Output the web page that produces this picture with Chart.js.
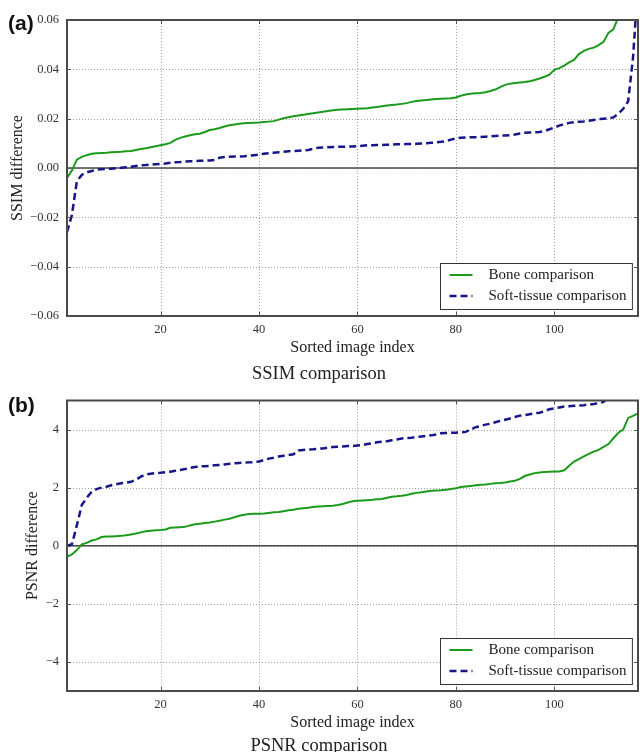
<!DOCTYPE html>
<html><head><meta charset="utf-8">
<script src="https://cdn.jsdelivr.net/npm/chart.js@4/dist/chart.umd.min.js"></script>
<style>
html,body{margin:0;padding:0;background:#fff;overflow:hidden}
#wrap{position:relative;width:640px;height:752px;overflow:hidden;background:#fff}
canvas{position:absolute;left:0}
.tag{position:absolute;font:bold 21px "Liberation Sans",Arial,sans-serif;color:#111;line-height:21px}
</style></head><body>
<div id="wrap">
<canvas id="c1" width="640" height="385" style="top:0"></canvas>
<canvas id="c2" width="640" height="372" style="top:385px"></canvas>
<div class="tag" style="left:8px;top:12px">(a)</div>
<div class="tag" style="left:8px;top:394px">(b)</div>
</div>
<script>
// ---- data ----
const imageIndex = Array.from({length: 117}, (_, i) => i + 1);
const xTicks = [20, 40, 60, 80, 100];
const ssimTicks = [-0.06, -0.04, -0.02, 0, 0.02, 0.04, 0.06];
const psnrTicks = [-4, -2, 0, 2, 4];
const legendLabels = ['Bone comparison', 'Soft-tissue comparison'];

const ssimBone = [-0.004,-0.001,0.0034,0.0045,0.0052,0.0058,0.006,0.0061,0.0062,0.0064,
 0.0065,0.0066,0.0068,0.0069,0.0073,0.0077,0.008,0.0084,0.0088,0.0092,
 0.0096,0.0102,0.0114,0.0122,0.0128,0.0133,0.0137,0.0139,0.0146,0.0154,
 0.0157,0.0162,0.0168,0.0173,0.0176,0.0179,0.0181,0.0182,0.0183,0.0184,
 0.0186,0.0188,0.019,0.0196,0.0202,0.0206,0.021,0.0213,0.0216,0.0219,
 0.0222,0.0225,0.0228,0.0231,0.0234,0.0236,0.0237,0.0238,0.0239,0.024,
 0.0241,0.0242,0.0245,0.0247,0.025,0.0253,0.0255,0.0257,0.026,0.0263,
 0.0268,0.0272,0.0274,0.0276,0.0278,0.028,0.0281,0.0282,0.0283,0.0286,
 0.0293,0.0298,0.0301,0.0303,0.0304,0.0307,0.0312,0.0318,0.0328,0.0337,
 0.0342,0.0345,0.0347,0.0349,0.0352,0.0357,0.0363,0.037,0.0378,0.0398,
 0.0405,0.0415,0.0428,0.0438,0.0462,0.0475,0.0483,0.0488,0.0498,0.0512,
 0.0548,0.0562,0.0612,0.065,0.07,0.075,0.08];

const ssimSoft = [-0.026,-0.019,-0.0054,-0.0028,-0.0018,-0.0012,-0.0007,-0.0005,-0.0004,-0.0003,
 -0.0001,0.0001,0.0003,0.0005,0.0008,0.0011,0.0012,0.0014,0.0015,0.0016,
 0.0018,0.0021,0.0023,0.0024,0.0026,0.0027,0.0028,0.0029,0.003,0.003,
 0.0033,0.0042,0.0045,0.0046,0.0047,0.0047,0.0048,0.005,0.0052,0.0054,
 0.0058,0.006,0.0062,0.0064,0.0066,0.0068,0.0069,0.007,0.0071,0.0073,
 0.0078,0.0082,0.0083,0.0084,0.0085,0.0086,0.0086,0.0087,0.0087,0.0088,
 0.009,0.0092,0.0092,0.0093,0.0093,0.0094,0.0095,0.0096,0.0096,0.0097,
 0.0097,0.0098,0.0099,0.01,0.0102,0.0104,0.0106,0.0109,0.0115,0.012,
 0.0123,0.0124,0.0125,0.0125,0.0126,0.0127,0.0128,0.013,0.0131,0.0132,
 0.0133,0.0136,0.014,0.0143,0.0144,0.0145,0.0146,0.015,0.0157,0.0164,
 0.0172,0.0178,0.0183,0.0186,0.0188,0.0189,0.0192,0.0195,0.0198,0.02,
 0.0201,0.0205,0.022,0.024,0.027,0.045,0.075];

const psnrBone = [-0.38,-0.3,-0.15,0.05,0.1,0.18,0.22,0.3,0.32,0.32,
 0.33,0.34,0.36,0.39,0.42,0.46,0.5,0.52,0.53,0.54,
 0.56,0.62,0.63,0.64,0.65,0.7,0.74,0.76,0.78,0.8,
 0.83,0.86,0.9,0.93,0.98,1.03,1.07,1.09,1.1,1.1,
 1.11,1.13,1.15,1.16,1.19,1.22,1.24,1.27,1.29,1.31,
 1.33,1.35,1.36,1.37,1.38,1.4,1.44,1.49,1.53,1.55,
 1.56,1.57,1.58,1.6,1.61,1.65,1.69,1.7,1.72,1.75,
 1.79,1.82,1.84,1.87,1.89,1.9,1.91,1.93,1.95,1.98,
 2.02,2.04,2.06,2.08,2.1,2.11,2.13,2.15,2.16,2.18,
 2.21,2.24,2.3,2.4,2.45,2.5,2.52,2.54,2.55,2.56,
 2.56,2.6,2.75,2.9,2.98,3.08,3.16,3.24,3.3,3.4,
 3.5,3.7,3.89,4.0,4.4,4.47,4.56];

const psnrSoft = [0.0,0.05,0.7,1.4,1.65,1.85,1.95,2.0,2.03,2.08,
 2.12,2.15,2.17,2.2,2.27,2.38,2.45,2.48,2.5,2.51,
 2.53,2.55,2.58,2.61,2.64,2.68,2.71,2.73,2.74,2.75,
 2.77,2.78,2.8,2.82,2.84,2.85,2.86,2.87,2.88,2.9,
 2.95,3.0,3.03,3.07,3.1,3.12,3.15,3.28,3.3,3.31,
 3.32,3.34,3.35,3.38,3.4,3.41,3.42,3.43,3.43,3.45,
 3.47,3.5,3.53,3.56,3.58,3.6,3.63,3.66,3.69,3.71,
 3.72,3.74,3.76,3.78,3.8,3.83,3.87,3.88,3.89,3.89,
 3.9,3.92,4.0,4.08,4.12,4.17,4.2,4.25,4.3,4.34,
 4.38,4.43,4.48,4.5,4.53,4.56,4.58,4.63,4.7,4.73,
 4.76,4.79,4.8,4.82,4.83,4.84,4.86,4.88,4.91,4.95,
 5.1,5.2,5.3,5.4,5.5,5.6,5.7];

// ---- styling ----
const SERIF = '"Liberation Serif", "Times New Roman", serif';
const boneColor = '#1c9a1c';
const softColor = '#16168a';
const frameColor = '#4a4a4a';

const framePlugin = {
  id: 'frame',
  beforeDatasetsDraw(chart) {
    const {ctx, chartArea: a, scales: {x, y}} = chart;
    ctx.save();
    ctx.beginPath(); ctx.rect(a.left, a.top, a.right - a.left, a.bottom - a.top); ctx.clip();
    ctx.strokeStyle = '#a0a0a0'; ctx.lineWidth = 1; ctx.setLineDash([1, 2]);
    x.ticks.forEach(t => {
      const px = Math.round(x.getPixelForValue(t.value)) + 0.5;
      ctx.beginPath(); ctx.moveTo(px, a.top); ctx.lineTo(px, a.bottom); ctx.stroke();
    });
    y.ticks.forEach(t => {
      const py = Math.round(y.getPixelForValue(t.value)) + 0.5;
      ctx.beginPath(); ctx.moveTo(a.left, py); ctx.lineTo(a.right, py); ctx.stroke();
    });
    ctx.setLineDash([]);
    const z = y.getPixelForValue(0);
    ctx.strokeStyle = frameColor; ctx.lineWidth = 1.5;
    ctx.beginPath(); ctx.moveTo(a.left, z); ctx.lineTo(a.right, z); ctx.stroke();
    ctx.restore();
  },
  afterDatasetsDraw(chart) {
    const {ctx, chartArea: a, scales: {x, y}} = chart;
    ctx.save();
    ctx.strokeStyle = frameColor; ctx.lineWidth = 2;
    ctx.strokeRect(a.left, a.top, a.right - a.left, a.bottom - a.top);
    ctx.lineWidth = 1; ctx.strokeStyle = '#555';
    const L = 4;
    x.ticks.forEach(t => {
      const px = Math.round(x.getPixelForValue(t.value)) + 0.5;
      ctx.beginPath(); ctx.moveTo(px, a.bottom); ctx.lineTo(px, a.bottom - L);
      ctx.moveTo(px, a.top); ctx.lineTo(px, a.top + L); ctx.stroke();
    });
    y.ticks.forEach(t => {
      const py = Math.round(y.getPixelForValue(t.value)) + 0.5;
      ctx.beginPath(); ctx.moveTo(a.left, py); ctx.lineTo(a.left + L, py);
      ctx.moveTo(a.right, py); ctx.lineTo(a.right - L, py); ctx.stroke();
    });
    ctx.restore();
  },
  afterDraw(chart) {
    const {ctx, chartArea: a} = chart;
    const ds = chart.data.datasets;
    ctx.save();
    ctx.font = '15px ' + SERIF;
    const maxW = Math.max(...ds.map(d => ctx.measureText(d.label).width));
    const w = 48 + maxW + 6, h = 46;
    const bx = Math.round(a.right - 6 - w) + 0.5, by = Math.round(a.bottom - 7 - h) + 0.5;
    ctx.fillStyle = '#fff'; ctx.fillRect(bx, by, w, h);
    ctx.strokeStyle = '#333'; ctx.lineWidth = 1; ctx.strokeRect(bx, by, w, h);
    ds.forEach((d, i) => {
      const cy = by + 11.5 + i * 21;
      ctx.strokeStyle = d.borderColor; ctx.lineWidth = d.borderWidth;
      ctx.setLineDash(d.borderDash || []);
      ctx.beginPath(); ctx.moveTo(bx + 9, cy); ctx.lineTo(bx + 32, cy); ctx.stroke();
      ctx.setLineDash([]);
      ctx.fillStyle = '#222'; ctx.textBaseline = 'middle'; ctx.textAlign = 'left';
      ctx.fillText(d.label, bx + 48, cy);
    });
    ctx.restore();
  }
};

function makeChart(id, cfg) {
  return new Chart(document.getElementById(id), {
    type: 'line',
    data: {
      labels: imageIndex,
      datasets: [
        {label: legendLabels[0], data: cfg.bone, borderColor: boneColor, borderWidth: 2,
         pointRadius: 0, tension: 0, fill: false, clip: 0},
        {label: legendLabels[1], data: cfg.soft, borderColor: softColor, borderWidth: 2.5,
         borderDash: [7, 4], pointRadius: 0, tension: 0, fill: false, clip: 0}
      ]
    },
    options: {
      responsive: false, animation: false,
      layout: {padding: {top: cfg.padTop, right: 2, left: 0, bottom: 0}},
      plugins: {
        legend: {display: false}, tooltip: {enabled: false},
        title: {display: true, text: cfg.title, position: 'bottom', color: '#222',
                font: {family: SERIF, size: 18.5, weight: 'normal'},
                padding: {top: cfg.titlePad, bottom: 0}}
      },
      scales: {
        x: {
          type: 'linear', min: 1, max: 117,
          grid: {display: false, drawTicks: false}, border: {display: false},
          afterBuildTicks: s => { s.ticks = xTicks.map(v => ({value: v})); },
          afterFit: s => { s.height = 41; },
          ticks: {font: {family: SERIF, size: 12.5}, color: '#333', padding: 6, maxRotation: 0, autoSkip: false},
          title: {display: true, text: 'Sorted image index', color: '#222',
                  font: {family: SERIF, size: 16}, padding: {top: 0, bottom: 0}}
        },
        y: {
          type: 'linear', min: cfg.ymin, max: cfg.ymax,
          grid: {display: false, drawTicks: false}, border: {display: false},
          afterBuildTicks: s => { s.ticks = cfg.yTicks.map(v => ({value: v})); },
          afterFit: s => { s.width = 67; },
          ticks: {font: {family: SERIF, size: 12.5}, color: '#333', padding: 8, autoSkip: false, callback: cfg.fmt},
          title: {display: true, text: cfg.ytitle, color: '#222',
                  font: {family: SERIF, size: 16}, padding: {top: cfg.yTitlePad, bottom: 0}}
        }
      }
    },
    plugins: [framePlugin]
  });
}

makeChart('c1', {
  bone: ssimBone, soft: ssimSoft, yTicks: ssimTicks, ymin: -0.06, ymax: 0.06,
  fmt: v => Number(v).toFixed(2).replace('-', '\u2212'),
  ytitle: 'SSIM difference', yTitlePad: 7.7, title: 'SSIM comparison',
  padTop: 20, titlePad: 5.8
});
makeChart('c2', {
  bone: psnrBone, soft: psnrSoft, yTicks: psnrTicks, ymin: -5, ymax: 5,
  fmt: v => String(v).replace('-', '\u2212'),
  ytitle: 'PSNR difference', yTitlePad: 23.4, title: 'PSNR comparison',
  padTop: 10, titlePad: 2.8
});
</script>
</body></html>
